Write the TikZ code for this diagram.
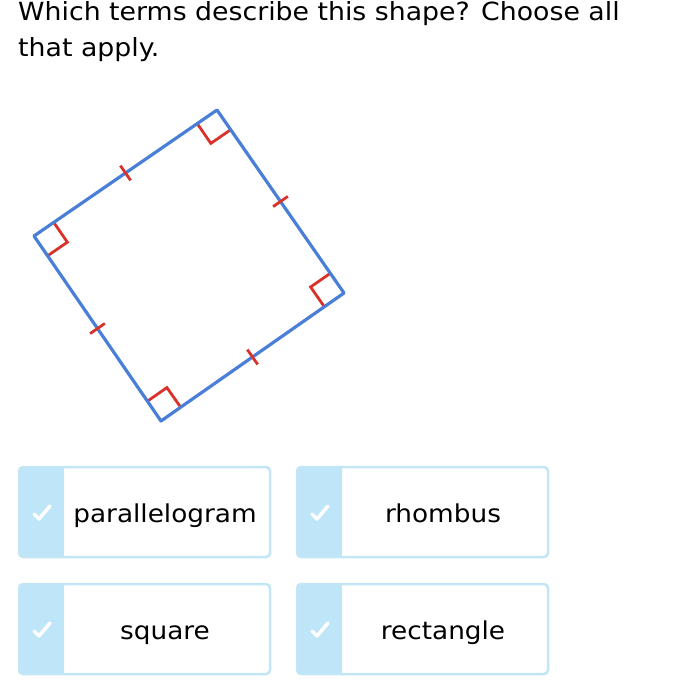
\documentclass[tikz,border=0pt]{standalone}
\usepackage{fontspec}
\setmainfont[FakeStretch=1.07]{DejaVu Sans}
\usetikzlibrary{calc}
\definecolor{sqblue}{HTML}{4A7FD8}
\definecolor{sqred}{HTML}{D9322A}
\definecolor{btnborder}{HTML}{C3E6F6}
\definecolor{btnstrip}{HTML}{BEE5F8}
\begin{document}
\begin{tikzpicture}[x=1pt,y=-1pt,
  side/.style={draw=sqblue,line width=3.2pt,line join=round},
  ramark/.style={draw=sqred,line width=2.8pt},
  tickmark/.style={draw=sqred,line width=2.8pt},
  btn/.style={draw=btnborder,line width=2.5pt,rounded corners=4pt},
  chk/.style={draw=white,line width=3.5pt,line cap=round,line join=round},
  lbl/.style={font=\fontsize{24.6}{28}\selectfont,text=black,anchor=base,inner sep=0pt},
  ttl/.style={font=\fontsize{25}{28}\selectfont,text=black,anchor=base west,inner sep=0pt},
]
\useasboundingbox (0,0) rectangle (697,698);
\node[ttl] (title1) at (18,21) {Which terms describe this shape? Choose all};
\node[ttl] (title2) at (18,57) {that apply.};
% square
\coordinate (T) at (217,110);
\coordinate (R) at (344,293);
\coordinate (B) at (161,421);
\coordinate (L) at (34,236);
% right angle marks
\foreach \v/\a/\b in {T/L/R, R/T/B, B/R/L, L/B/T}{
  \draw[ramark] ($(\v)!24pt!(\a)$) -- ($($(\v)!24pt!(\a)$)!24pt!-90:(\v)$) -- ($(\v)!24pt!(\b)$);
}
\draw[side] (T) -- (R) -- (B) -- (L) -- cycle;
% ticks
\foreach \p/\q in {L/T, T/R, R/B, B/L}{
  \draw[tickmark] ($($(\p)!0.5!(\q)$)!9pt!90:(\q)$) -- ($($(\p)!0.5!(\q)$)!9pt!-90:(\q)$);
}
% buttons
\foreach \n/\x/\y/\t in {b1/19/467/parallelogram, b2/297/467/rhombus, b3/19/584/square, b4/297/584/rectangle}{
  \fill[btnstrip,rounded corners=4pt] (\x,\y) rectangle ++(45,90);
  \fill[btnstrip] (\x+20,\y) rectangle ++(25,90);
  \draw[btn] (\x,\y) rectangle ++(251,90);
  \node[lbl] (\n) at (\x+146,\y+55) {\t};
  \draw[chk] (\x+15,\y+47) -- (\x+20,\y+52) -- (\x+31,\y+39);
}
\end{tikzpicture}
\end{document}
